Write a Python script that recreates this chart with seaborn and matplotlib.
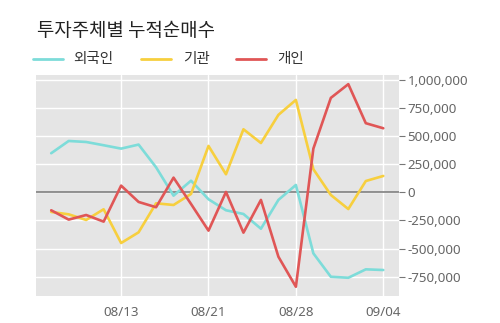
import matplotlib
matplotlib.use("Agg")
import matplotlib.pyplot as plt
import seaborn as sns
import pandas as pd
import numpy as np
from matplotlib.ticker import FuncFormatter, FixedLocator

dates = ["08/07", "08/08", "08/09", "08/10", "08/13", "08/14", "08/16", "08/17",
         "08/20", "08/21", "08/22", "08/23", "08/24", "08/27", "08/28", "08/29",
         "08/30", "08/31", "09/03", "09/04"]
foreign = [347000, 456000, 447000, 418000, 388000, 424000, 222000, -30000,
           103000, -62000, -160000, -193000, -324000, -68000, 65000, -543000,
           -751000, -760000, -685000, -691000]
institution = [-175000, -196000, -246000, -151000, -451000, -356000, -98000, -113000,
               -15000, 412000, 160000, 560000, 438000, 688000, 821000, 205000,
               -24000, -149000, 100000, 145000]
individual = [-160000, -243000, -202000, -261000, 59000, -86000, -133000, 130000,
              -104000, -341000, 3000, -359000, -68000, -573000, -840000, 388000,
              839000, 961000, 614000, 569000]
series_names = ["외국인", "기관", "개인"]
colors = ["#7ddcd9", "#f7cf3e", "#e05656"]
tick_labels = ["08/13", "08/21", "08/28", "09/04"]
y_ticks = [-750000, -500000, -250000, 0, 250000, 500000, 750000, 1000000]

rows = []
for name, vals in zip(series_names, [foreign, institution, individual]):
    for i, (d, v) in enumerate(zip(dates, vals)):
        rows.append({"idx": i, "date": d, "series": name, "value": v})
df = pd.DataFrame(rows)

sns.set_theme(style="white")
plt.rcParams['font.family'] = ['Noto Sans CJK KR', 'DejaVu Sans']

fig = plt.figure(figsize=(5.0, 3.23), dpi=100)
ax = fig.add_axes([0.072, 0.0836, 0.726, 0.6844])
ax.set_facecolor("#e5e5e5")

sns.lineplot(data=df, x="idx", y="value", hue="series", hue_order=series_names,
             palette=colors, linewidth=1.9, ax=ax, legend=False, zorder=3)

ax.set_xlim(-0.87, 19.9)
ax.set_ylim(-922000, 1043000)

tick_pos = [dates.index(t) for t in tick_labels]
ax.xaxis.set_major_locator(FixedLocator(tick_pos))
ax.set_xticklabels(tick_labels)
ax.yaxis.set_major_locator(FixedLocator(y_ticks))
ax.yaxis.set_major_formatter(FuncFormatter(lambda v, p: f"{int(v):,}"))
ax.yaxis.tick_right()
ax.yaxis.set_label_position("right")

ax.grid(True, color="white", linewidth=1.0, zorder=0)
ax.set_axisbelow(True)
ax.axhline(0, color="#7f7f7f", linewidth=1.2, zorder=2)

for s in ax.spines.values():
    s.set_visible(False)
ax.tick_params(axis="both", colors="#777777", labelcolor="#666666",
               labelsize=9.6, length=4, width=0.8, pad=2)
ax.tick_params(axis="x", pad=3)
for lbl in ax.get_xticklabels() + ax.get_yticklabels():
    lbl.set_family(['Noto Sans', 'DejaVu Sans'])
ax.set_xlabel("")
ax.set_ylabel("")

fig.text(0.074, 0.906, "투자주체별 누적순매수", fontsize=13.6, color="#222222",
         va="center", ha="left")

# legend
legend_y = 1 - 59 / 323
items = [(33, 63, 73), (141, 171, 183), (236, 266, 277)]
for (x0, x1, xt), name, c in zip(items, series_names, colors):
    fig.add_artist(plt.Line2D([x0 / 500, x1 / 500], [legend_y, legend_y],
                              color=c, linewidth=2, transform=fig.transFigure))
    fig.text(xt / 500, legend_y, name, fontsize=10.5, color="#333333",
             va="center", ha="left")

fig.savefig("out.png", dpi=100)
